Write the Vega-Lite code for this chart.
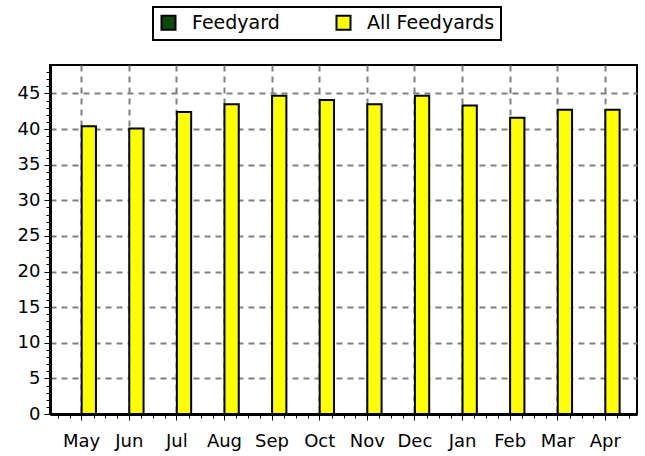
{
  "$schema": "https://vega.github.io/schema/vega-lite/v6.json",
  "autosize": {"type": "none"},
  "padding": {"left": 50, "top": 65, "right": 8, "bottom": 42},
  "width": 587,
  "height": 349,
  "background": "white",
  "config": {
    "font": "DejaVu Sans",
    "view": {"stroke": "black", "strokeWidth": 2},
    "legend": {"strokeWidth": 2},
    "axis": {
      "labelFont": "DejaVu Sans",
      "labelFontSize": 18,
      "labelColor": "black",
      "domainColor": "black",
      "domainWidth": 3,
      "tickColor": "black",
      "gridColor": "#808080",
      "gridDash": [6, 5],
      "gridWidth": 2,
      "gridOpacity": 1
    }
  },
  "data": {
    "values": [
      {"i": 0, "month": "May", "series": "All Feedyards", "value": 40.4},
      {"i": 1, "month": "Jun", "series": "All Feedyards", "value": 40.1},
      {"i": 2, "month": "Jul", "series": "All Feedyards", "value": 42.4},
      {"i": 3, "month": "Aug", "series": "All Feedyards", "value": 43.5},
      {"i": 4, "month": "Sep", "series": "All Feedyards", "value": 44.7},
      {"i": 5, "month": "Oct", "series": "All Feedyards", "value": 44.1},
      {"i": 6, "month": "Nov", "series": "All Feedyards", "value": 43.5},
      {"i": 7, "month": "Dec", "series": "All Feedyards", "value": 44.7},
      {"i": 8, "month": "Jan", "series": "All Feedyards", "value": 43.3},
      {"i": 9, "month": "Feb", "series": "All Feedyards", "value": 41.6},
      {"i": 10, "month": "Mar", "series": "All Feedyards", "value": 42.7},
      {"i": 11, "month": "Apr", "series": "All Feedyards", "value": 42.7}
    ]
  },
  "layer": [
    {
      "mark": {"type": "bar", "stroke": "black", "strokeWidth": 2},
      "encoding": {
        "x": {
          "field": "month",
          "type": "nominal",
          "sort": null,
          "scale": {"paddingInner": 0.4, "paddingOuter": 0.365},
          "axis": {
            "title": null,
            "labelAngle": 0,
            "tickSize": 6,
            "labelPadding": 12,
            "grid": true,
            "offset": 0
          }
        },
        "xOffset": {
          "field": "series",
          "type": "nominal",
          "scale": {"domain": ["Feedyard", "All Feedyards"]}
        },
        "y": {
          "field": "value",
          "type": "quantitative",
          "scale": {"domain": [0, 49], "nice": false},
          "axis": {
            "title": null,
            "values": [0, 5, 10, 15, 20, 25, 30, 35, 40, 45],
            "tickSize": 6,
            "labelPadding": 4,
            "offset": 0
          }
        },
        "color": {
          "field": "series",
          "type": "nominal",
          "scale": {"domain": ["Feedyard", "All Feedyards"], "range": ["#0b4a0b", "#ffff00"]},
          "legend": {
            "title": null,
            "orient": "none",
            "legendX": 103,
            "legendY": -58,
            "direction": "horizontal",
            "symbolType": "square",
            "symbolSize": 196,
            "symbolStrokeColor": "black",
            "symbolStrokeWidth": 2,
            "symbolOpacity": 1,
            "labelFontSize": 19,
            "labelColor": "black",
            "labelOffset": 14,
            "labelExpr": "datum.label == 'All Feedyards' ? datum.label + '\u00a0\u00a0\u00a0\u00a0' : datum.label",
            "columnPadding": 52,
            "strokeColor": "black",
            "fillColor": "white",
            "padding": 6
          }
        }
      }
    },
    {
      "mark": {"type": "point", "opacity": 0},
      "encoding": {
        "x": {
          "field": "i",
          "type": "quantitative",
          "scale": {"domain": [-0.665, 11.665], "nice": false, "zero": false},
          "axis": {
            "orient": "bottom",
            "offset": 0,
            "title": null,
            "labels": false,
            "domain": false,
            "grid": false,
            "tickSize": 4,
            "values": [-0.5, -0.25, 0.25, 0.5, 0.75, 1.25, 1.5, 1.75, 2.25, 2.5, 2.75, 3.25, 3.5, 3.75, 4.25, 4.5, 4.75, 5.25, 5.5, 5.75, 6.25, 6.5, 6.75, 7.25, 7.5, 7.75, 8.25, 8.5, 8.75, 9.25, 9.5, 9.75, 10.25, 10.5, 10.75, 11.25, 11.5]
          }
        },
        "y": {
          "field": "value",
          "type": "quantitative",
          "axis": {
            "orient": "left",
            "offset": 0,
            "title": null,
            "labels": false,
            "domain": false,
            "grid": false,
            "tickSize": 4,
            "values": [1, 2, 3, 4, 6, 7, 8, 9, 11, 12, 13, 14, 16, 17, 18, 19, 21, 22, 23, 24, 26, 27, 28, 29, 31, 32, 33, 34, 36, 37, 38, 39, 41, 42, 43, 44, 46, 47, 48]
          }
        }
      }
    }
  ],
  "resolve": {"scale": {"x": "independent"}, "axis": {"x": "independent", "y": "independent"}}
}
